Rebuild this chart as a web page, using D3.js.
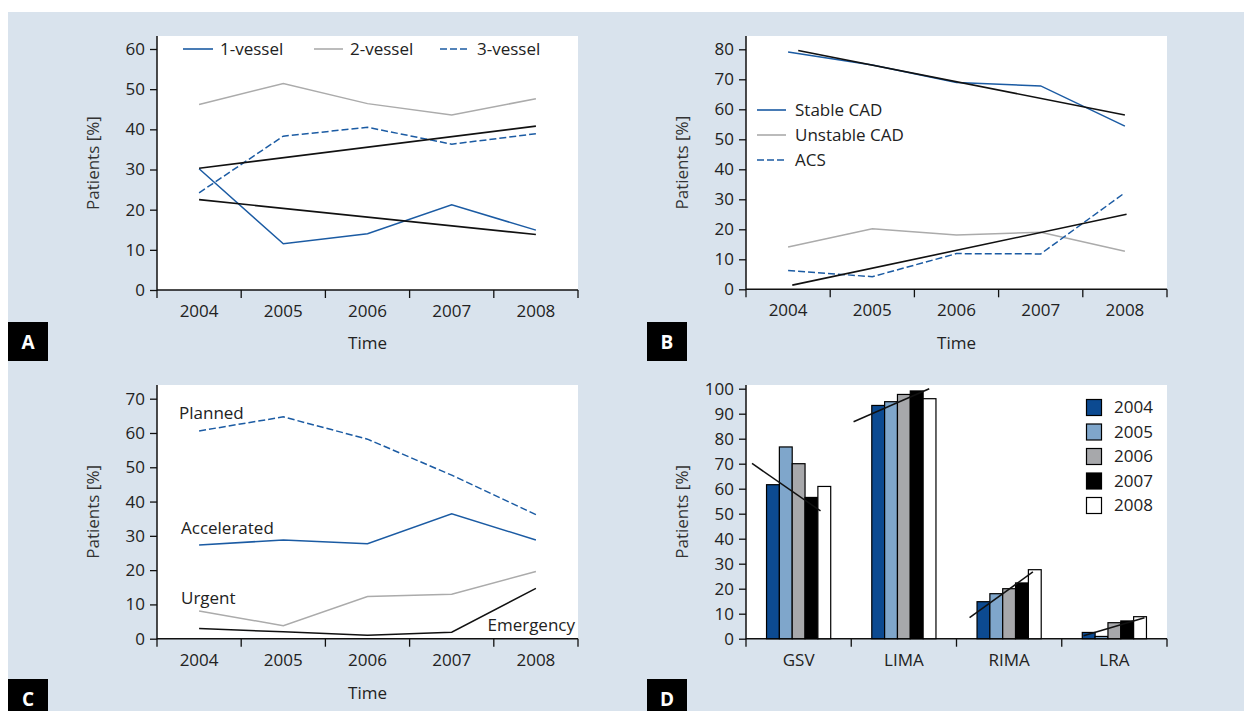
<!DOCTYPE html>
<html><head><meta charset="utf-8">
<script src="https://cdn.jsdelivr.net/npm/d3@7"></script>
<style>
html,body{margin:0;padding:0;background:#fff;}
svg text{font-family:"Open Sans",sans-serif;}
</style></head>
<body>
<svg id="c" width="1244" height="711"></svg>
<script>
// ---------- DATA ----------
const years = ["2004","2005","2006","2007","2008"];

// Panel A
const aTicks = [0,10,20,30,40,50,60];
const aOneVessel   = [30.2, 11.5, 14.0, 21.2, 14.9];
const aTwoVessel   = [46.2, 51.4, 46.4, 43.6, 47.6];
const aThreeVessel = [24.2, 38.3, 40.5, 36.3, 38.9];
const aTrendUp   = [[0,30.3],[4,40.8]];
const aTrendDown = [[0,22.5],[4,13.8]];
const aLegend = ["1-vessel","2-vessel","3-vessel"];

// Panel B
const bTicks = [0,10,20,30,40,50,60,70,80];
const bStable   = [79.1, 74.8, 68.9, 67.8, 54.4];
const bUnstable = [14.1, 20.2, 18.1, 19.0, 12.7];
const bACS      = [6.3, 4.2, 11.9, 11.8, 32.2];
const bTrendStable = [[0.12,79.6],[4,58.1]];
const bTrendACS    = [[0.05,1.4],[4.02,25.0]];
const bLegend = ["Stable CAD","Unstable CAD","ACS"];

// Panel C
const cTicks = [0,10,20,30,40,50,60,70];
const cPlanned     = [60.6, 64.7, 58.2, 47.7, 36.2];
const cAccelerated = [27.3, 28.8, 27.7, 36.4, 28.8];
const cUrgent      = [8.1, 3.8, 12.3, 13.0, 19.6];
const cEmergency   = [3.0, 2.0, 1.0, 1.9, 14.7];
const cLabels = ["Planned","Accelerated","Urgent","Emergency"];

// Panel D
const dTicks = [0,10,20,30,40,50,60,70,80,90,100];
const dCategories = ["GSV","LIMA","RIMA","LRA"];
const dValues = {
  "2004": [61.6, 93.3, 14.8, 2.5],
  "2005": [76.7, 94.8, 18.0, 0.9],
  "2006": [70.0, 97.7, 20.0, 6.4],
  "2007": [56.5, 99.1, 22.3, 7.1],
  "2008": [60.9, 96.0, 27.6, 8.8]
};
// trend lines: [category, [fraction-in-band, value], [fraction-in-band, value]]
const dTrends = [
  ["GSV",  [0.057,70.1],[0.708,51.1]],
  ["LIMA", [0.022,86.8],[0.741,100.0]],
  ["RIMA", [0.124,8.4], [0.726,26.7]],
  ["LRA",  [0.207,1.2], [0.786,8.4]]
];
const panelLetters = ["A","B","C","D"];

// ---------- STYLE ----------
const BLUE = "#1b5ba3", GRAY = "#ababab", BLACK = "#111";
const BG = "#d9e3ed";
const TXT = "#222";
const FS = 17;
const barColors = {"2004":"#0c4a91","2005":"#7fa6cb","2006":"#a7a8ab","2007":"#000","2008":"#fff"};

const svg = d3.select("#c");
svg.append("rect").attr("x",8).attr("y",12).attr("width",1236).attr("height",699).attr("fill",BG);

function frame(left,right,top,bottom,ymax,yTop,ticks,bandDomain){
  const g = svg.append("g");
  g.append("rect").attr("x",left).attr("y",top).attr("width",right-left).attr("height",bottom-top).attr("fill","#fff");
  const y = d3.scaleLinear().domain([0,ymax]).range([bottom,yTop]);
  const xb = d3.scaleBand().domain(bandDomain).range([left,right]);
  const ya = d3.axisLeft(y).tickValues(ticks).tickSize(7).tickPadding(5).tickFormat(d3.format("d"));
  const yg = g.append("g").attr("transform",`translate(${left},0)`).call(ya);
  yg.select(".domain").remove();
  yg.selectAll("line").attr("stroke",BLACK).attr("stroke-width",1.3);
  yg.selectAll("text").attr("font-size",FS).attr("fill",TXT).attr("font-family","Open Sans");
  g.append("line").attr("x1",left).attr("x2",left).attr("y1",top).attr("y2",bottom+0.5).attr("stroke",BLACK).attr("stroke-width",1.5);
  const bounds = bandDomain.map(d=>xb(d)).concat([right]);
  g.append("line").attr("x1",left).attr("x2",right).attr("y1",bottom).attr("y2",bottom).attr("stroke",BLACK).attr("stroke-width",1.5);
  g.selectAll(".xt").data(bounds).enter().append("line")
    .attr("x1",d=>d).attr("x2",d=>d).attr("y1",bottom).attr("y2",bottom+8)
    .attr("stroke",BLACK).attr("stroke-width",1.3);
  g.selectAll(".xl").data(bandDomain).enter().append("text")
    .attr("x",d=>xb(d)+xb.bandwidth()/2).attr("y",bottom+21).attr("dy","0.35em")
    .attr("text-anchor","middle").attr("font-size",FS).attr("fill",TXT).text(d=>d);
  g.append("text").attr("transform",`translate(${left-64},${(top+bottom)/2}) rotate(-90)`)
    .attr("text-anchor","middle").attr("dy","0.35em").attr("font-size",FS).attr("fill","#333").text("Patients [%]");
  return {g,y,xb};
}

function yearX(p){
  return d3.scaleLinear().domain([0,4]).range([p.xb(years[0])+p.xb.bandwidth()/2, p.xb(years[4])+p.xb.bandwidth()/2]);
}
function lineSeries(p, vals, color, dashed){
  const xi = yearX(p);
  const ln = d3.line().x((d,i)=>xi(i)).y(d=>p.y(d));
  const path = p.g.append("path").datum(vals).attr("d",ln).attr("fill","none").attr("stroke",color).attr("stroke-width",1.5);
  if(dashed) path.attr("stroke-dasharray","7,3");
}
function trend(p, pts){
  const xi = yearX(p);
  p.g.append("path").datum(pts).attr("d",d3.line().x(d=>xi(d[0])).y(d=>p.y(d[1])))
    .attr("fill","none").attr("stroke",BLACK).attr("stroke-width",1.6);
}
function legendLine(g,x1,x2,y,color,dashed,label,tx){
  const l = g.append("line").attr("x1",x1).attr("x2",x2).attr("y1",y).attr("y2",y).attr("stroke",color).attr("stroke-width",1.6);
  if(dashed) l.attr("stroke-dasharray","7,3");
  g.append("text").attr("x",tx).attr("y",y).attr("dy","0.35em").attr("font-size",FS).attr("fill",TXT).text(label);
}
function letterBox(x,y,letter){
  svg.append("rect").attr("x",x).attr("y",y).attr("width",40).attr("height",39).attr("fill","#000");
  svg.append("text").attr("x",x+20).attr("y",y+20).attr("dy","0.35em").attr("text-anchor","middle")
    .attr("font-size",19).attr("font-weight","bold").attr("fill","#fff").text(letter);
}
function timeLabel(p,x,y){
  p.g.append("text").attr("x",x).attr("y",y).attr("dy","0.35em").attr("text-anchor","middle").attr("font-size",FS).attr("fill",TXT).text("Time");
}

// ---------- PANEL A ----------
const pA = frame(157,578,36,290,60,49,aTicks,years);
lineSeries(pA,aTwoVessel,GRAY,false);
lineSeries(pA,aThreeVessel,BLUE,true);
lineSeries(pA,aOneVessel,BLUE,false);
trend(pA,aTrendUp); trend(pA,aTrendDown);
legendLine(pA.g,183,213,49,BLUE,false,aLegend[0],220);
legendLine(pA.g,314,343,49,GRAY,false,aLegend[1],350);
legendLine(pA.g,440,469,49,BLUE,true,aLegend[2],477);
timeLabel(pA,(157+578)/2,343);
letterBox(8,322,panelLetters[0]);

// ---------- PANEL B ----------
const pB = frame(746,1167,36,289.3,80,49.3,bTicks,years);
lineSeries(pB,bUnstable,GRAY,false);
lineSeries(pB,bACS,BLUE,true);
lineSeries(pB,bStable,BLUE,false);
trend(pB,bTrendStable); trend(pB,bTrendACS);
legendLine(pB.g,757,786,110,BLUE,false,bLegend[0],795);
legendLine(pB.g,757,786,135,GRAY,false,bLegend[1],795);
legendLine(pB.g,757,786,160,BLUE,true,bLegend[2],795);
timeLabel(pB,(746+1167)/2,343);
letterBox(647,322,panelLetters[1]);

// ---------- PANEL C ----------
const pC = frame(157,578,385,638.7,70,398.7,cTicks,years);
lineSeries(pC,cUrgent,GRAY,false);
lineSeries(pC,cEmergency,BLACK,false);
lineSeries(pC,cAccelerated,BLUE,false);
lineSeries(pC,cPlanned,BLUE,true);
const cl = [[179,413,"start"],[181,528,"start"],[181,598,"start"],[575,625,"end"]];
cLabels.forEach((t,i)=>pC.g.append("text").attr("x",cl[i][0]).attr("y",cl[i][1]).attr("dy","0.35em")
  .attr("text-anchor",cl[i][2]).attr("font-size",FS).attr("fill",TXT).text(t));
timeLabel(pC,(157+578)/2,693);
letterBox(8,679,panelLetters[2]);

// ---------- PANEL D ----------
const pD = frame(746,1167,385,638.7,100,388.7,dTicks,dCategories);
const inner = d3.scaleBand().domain(years).range([0,pD.xb.bandwidth()]).paddingOuter(1.6).paddingInner(0);
dCategories.forEach((cat,ci)=>{
  years.forEach(yr=>{
    const v = dValues[yr][ci];
    pD.g.append("rect").attr("x",pD.xb(cat)+inner(yr)).attr("y",pD.y(v))
      .attr("width",inner.bandwidth()).attr("height",pD.y(0)-pD.y(v))
      .attr("fill",barColors[yr]).attr("stroke","#000").attr("stroke-width",1.2);
  });
});
dTrends.forEach(t=>{
  const c = t[0];
  pD.g.append("line")
    .attr("x1",pD.xb(c)+t[1][0]*pD.xb.bandwidth()).attr("y1",pD.y(t[1][1]))
    .attr("x2",pD.xb(c)+t[2][0]*pD.xb.bandwidth()).attr("y2",pD.y(t[2][1]))
    .attr("stroke",BLACK).attr("stroke-width",1.5);
});
years.forEach((yr,i)=>{
  const yy = 407.5 + i*24.5;
  pD.g.append("rect").attr("x",1086.5).attr("y",yy-8).attr("width",15).attr("height",16)
    .attr("fill",barColors[yr]).attr("stroke","#000").attr("stroke-width",1.2);
  pD.g.append("text").attr("x",1114).attr("y",yy).attr("dy","0.35em").attr("font-size",FS).attr("fill",TXT).text(yr);
});
letterBox(647,679,panelLetters[3]);
</script>
</body></html>
